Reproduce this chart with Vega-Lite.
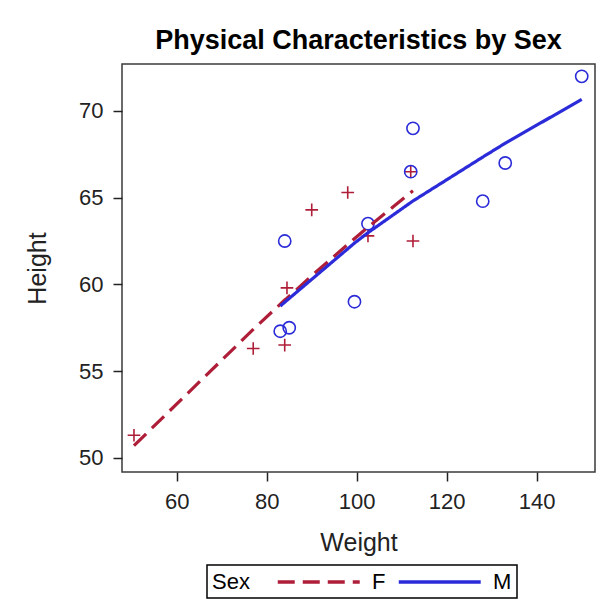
{
  "$schema": "https://vega.github.io/schema/vega-lite/v6.json",
  "autosize": "none",
  "width": 473,
  "height": 408,
  "padding": {"left": 122, "top": 64, "right": 2, "bottom": 132},
  "background": "white",
  "title": {
    "text": "Physical Characteristics by Sex",
    "font": "Liberation Sans",
    "fontSize": 27,
    "fontWeight": "bold",
    "color": "#000000",
    "anchor": "middle",
    "baseline": "alphabetic",
    "offset": -12
  },
  "datasets": {
    "class": [
      {"Name": "Alfred", "Sex": "M", "Height": 69.0, "Weight": 112.5},
      {"Name": "Alice", "Sex": "F", "Height": 56.5, "Weight": 84.0},
      {"Name": "Barbara", "Sex": "F", "Height": 65.3, "Weight": 98.0},
      {"Name": "Carol", "Sex": "F", "Height": 62.8, "Weight": 102.5},
      {"Name": "Henry", "Sex": "M", "Height": 63.5, "Weight": 102.5},
      {"Name": "James", "Sex": "M", "Height": 57.3, "Weight": 83.0},
      {"Name": "Jane", "Sex": "F", "Height": 59.8, "Weight": 84.5},
      {"Name": "Janet", "Sex": "F", "Height": 62.5, "Weight": 112.5},
      {"Name": "Jeffrey", "Sex": "M", "Height": 62.5, "Weight": 84.0},
      {"Name": "John", "Sex": "M", "Height": 59.0, "Weight": 99.5},
      {"Name": "Joyce", "Sex": "F", "Height": 51.3, "Weight": 50.5},
      {"Name": "Judy", "Sex": "F", "Height": 64.3, "Weight": 90.0},
      {"Name": "Louise", "Sex": "F", "Height": 56.3, "Weight": 77.0},
      {"Name": "Mary", "Sex": "F", "Height": 66.5, "Weight": 112.0},
      {"Name": "Philip", "Sex": "M", "Height": 72.0, "Weight": 150.0},
      {"Name": "Robert", "Sex": "M", "Height": 64.8, "Weight": 128.0},
      {"Name": "Ronald", "Sex": "M", "Height": 67.0, "Weight": 133.0},
      {"Name": "Thomas", "Sex": "M", "Height": 57.5, "Weight": 85.0},
      {"Name": "William", "Sex": "M", "Height": 66.5, "Weight": 112.0}
    ],
    "fit": [
      {"Sex": "F", "Weight": 50.5, "Fit": 50.7},
      {"Sex": "F", "Weight": 77.0, "Fit": 57.4},
      {"Sex": "F", "Weight": 84.0, "Fit": 59.1},
      {"Sex": "F", "Weight": 84.5, "Fit": 59.2},
      {"Sex": "F", "Weight": 90.0, "Fit": 60.5},
      {"Sex": "F", "Weight": 98.0, "Fit": 62.3},
      {"Sex": "F", "Weight": 102.5, "Fit": 63.3},
      {"Sex": "F", "Weight": 112.0, "Fit": 65.3},
      {"Sex": "F", "Weight": 112.5, "Fit": 65.4},
      {"Sex": "M", "Weight": 83.0, "Fit": 58.75},
      {"Sex": "M", "Weight": 84.0, "Fit": 58.97},
      {"Sex": "M", "Weight": 85.0, "Fit": 59.19},
      {"Sex": "M", "Weight": 99.5, "Fit": 62.38},
      {"Sex": "M", "Weight": 102.5, "Fit": 62.98},
      {"Sex": "M", "Weight": 112.0, "Fit": 64.72},
      {"Sex": "M", "Weight": 112.5, "Fit": 64.81},
      {"Sex": "M", "Weight": 128.0, "Fit": 67.34},
      {"Sex": "M", "Weight": 133.0, "Fit": 68.14},
      {"Sex": "M", "Weight": 150.0, "Fit": 70.67}
    ]
  },
  "encoding": {
    "x": {
      "field": "Weight",
      "type": "quantitative",
      "title": "Weight",
      "scale": {"domain": [47.84, 152.95], "nice": false, "zero": false},
      "axis": {"values": [60, 80, 100, 120, 140]}
    }
  },
  "layer": [
    {
      "data": {"name": "class"},
      "transform": [{"filter": "datum.Sex === 'F'"}],
      "mark": {"type": "point", "shape": "M-1,0H1M0,-1V1", "filled": false, "stroke": "#AF1E38", "strokeWidth": 1.6, "size": 160, "opacity": 1},
      "encoding": {
        "y": {
          "field": "Height",
          "type": "quantitative",
          "title": "Height",
          "scale": {"domain": [49.18, 72.71], "nice": false, "zero": false},
          "axis": {"values": [50, 55, 60, 65, 70]}
        }
      }
    },
    {
      "data": {"name": "class"},
      "transform": [{"filter": "datum.Sex === 'M'"}],
      "mark": {"type": "point", "shape": "circle", "filled": false, "stroke": "#2B2BD9", "strokeWidth": 1.6, "size": 150, "opacity": 1},
      "encoding": {
        "y": {"field": "Height", "type": "quantitative"}
      }
    },
    {
      "data": {"name": "fit"},
      "mark": {"type": "line", "strokeWidth": 3.2, "interpolate": "linear"},
      "encoding": {
        "y": {"field": "Fit", "type": "quantitative"},
        "color": {
          "field": "Sex",
          "type": "nominal",
          "scale": {"domain": ["F", "M"], "range": ["#AF1E38", "#2B2BD9"]},
          "legend": {
            "title": "Sex",
            "orient": "none",
            "legendX": 85,
            "legendY": 501,
            "direction": "horizontal",
            "titleOrient": "left",
            "symbolType": "M-1,0H7",
            "symbolSize": 420,
            "symbolStrokeWidth": 3.5,
            "labelOffset": 72
          }
        },
        "strokeDash": {
          "field": "Sex",
          "type": "nominal",
          "scale": {"domain": ["F", "M"], "range": [[17, 8], [1, 0]]},
          "legend": {
            "title": "Sex",
            "orient": "none",
            "legendX": 85,
            "legendY": 501,
            "direction": "horizontal",
            "titleOrient": "left",
            "symbolType": "M-1,0H7",
            "symbolSize": 420,
            "symbolStrokeWidth": 3.5,
            "labelOffset": 72
          }
        }
      }
    }
  ],
  "config": {
    "font": "Liberation Sans",
    "view": {"stroke": "#3a3a3a", "strokeWidth": 1.5},
    "axis": {
      "domain": false,
      "grid": false,
      "ticks": true,
      "tickColor": "#222222",
      "tickWidth": 1.5,
      "tickSize": 9,
      "labelFont": "Liberation Sans",
      "labelFontSize": 22,
      "labelColor": "#222222",
      "titleFont": "Liberation Sans",
      "titleFontSize": 25,
      "titleFontWeight": "normal",
      "titleColor": "#222222"
    },
    "axisX": {"labelPadding": 10, "titlePadding": 18},
    "axisY": {"labelPadding": 10, "titlePadding": 28},
    "legend": {
      "strokeColor": "#000000",
      "strokeWidth": 1.5,
      "padding": 5,
      "titleFont": "Liberation Sans",
      "titleFontSize": 22,
      "titleFontWeight": "normal",
      "titleColor": "#000000",
      "titlePadding": 26,
      "labelFont": "Liberation Sans",
      "labelFontSize": 22,
      "labelColor": "#000000",
      "columnPadding": 5
    }
  }
}
